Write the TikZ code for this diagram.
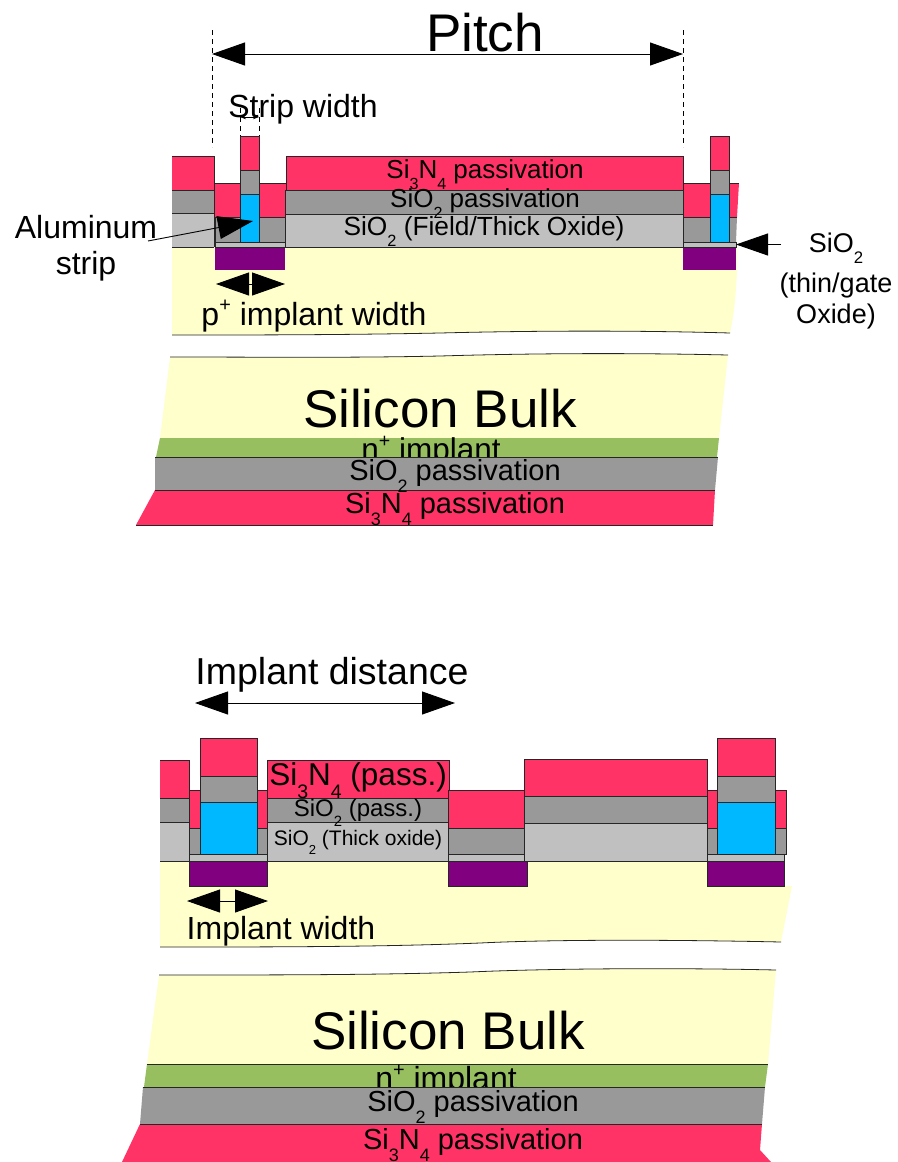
\documentclass[tikz,border=0pt]{standalone}
\usepackage{fontspec}
\setmainfont{Liberation Sans}
\usetikzlibrary{arrows.meta, positioning}
\definecolor{sinRed}{HTML}{FF3366}
\definecolor{oxGray}{HTML}{999999}
\definecolor{thickGray}{HTML}{C0C0C0}
\definecolor{alBlue}{HTML}{00B8FF}
\definecolor{pPurple}{HTML}{800080}
\definecolor{bulkYellow}{HTML}{FFFFCC}
\definecolor{nGreen}{HTML}{97BF60}
\newcommand{\subs}[1]{\raisebox{-.42em}{\scalebox{.62}{#1}}}
\newcommand{\sups}[1]{\raisebox{.42em}{\scalebox{.62}{#1}}}
\tikzset{
    layer/.style={draw=black!85, line width=0.8pt},
    sinLayer/.style={layer, fill=sinRed},
    oxLayer/.style={layer, fill=oxGray},
    thickLayer/.style={layer, fill=thickGray},
    alLayer/.style={layer, fill=alBlue},
    implantLayer/.style={layer, fill=pPurple},
    cutLine/.style={black!85, line width=0.8pt},
    label/.style={font={\fontsize{#1}{#1}\selectfont}, inner sep=0pt, text=black},
    dimArrow/.style={{Triangle[length=33pt,width=23pt]}-{Triangle[length=33pt,width=23pt]}, line width=0.9pt},
    guideLine/.style={dash pattern=on 5pt off 4pt, line width=0.7pt}
}

\begin{document}
\begin{tikzpicture}[x=1pt, y=-1pt]
    \useasboundingbox (0,0) rectangle (897,1162);

    % Upper drawing: bulk
    \fill[bulkYellow] (172,247) -- (737,247) -- (737,270) .. controls (736,295) and (734,315) .. (730,333)
        .. controls (660,331) and (560,330) .. (440,333) .. controls (340,335) and (250,335) .. (172,335) -- cycle;
    \draw[cutLine] (730,333) .. controls (660,331) and (560,330) .. (440,333) .. controls (340,335) and (250,335) .. (172,335);
    \fill[bulkYellow] (170,357) .. controls (260,357) and (350,358) .. (440,356) .. controls (540,353) and (640,353) .. (728,355) -- (719,438) -- (160,438) -- cycle;
    \draw[cutLine] (170,357) .. controls (260,357) and (350,358) .. (440,356) .. controls (540,353) and (640,353) .. (728,355);

    % Upper drawing: back layers
    \fill[nGreen] (160,438) -- (719,438) -- (717,457) -- (156,457) -- cycle;
    \node[label=31.5] (nImplantA) at (431,452) {n\sups{+} implant};
    \fill[oxGray] (155,457) -- (718,457) -- (715,490) -- (155,490) -- cycle;
    \fill[sinRed] (155,490) -- (715,490) -- (713,525) -- (136,525) -- cycle;
    \draw[cutLine] (155,457) -- (718,457) (155,490) -- (715,490) (136,525) -- (713,525);

    % Upper drawing: left stack
    \fill[sinRed] (172,156) rectangle (214,190);
    \fill[oxGray] (172,190) rectangle (214,213);
    \fill[thickGray] (172,213) rectangle (214,247);
    \draw[cutLine] (172,156) -- (214,156) -- (214,247) (172,190) -- (214,190) (172,213) -- (214,213) (172,247) -- (214,247);
    \draw[implantLayer, draw=none] (215,247) rectangle (285,270);
    \draw[thickLayer] (215,242) rectangle (285,247);
    \draw[oxLayer] (215,217) rectangle (240,242);
    \draw[oxLayer] (259,217) rectangle (285,242);
    \draw[sinLayer] (214,183) rectangle (240,217);
    \draw[sinLayer] (259,183) rectangle (286,217);
    \draw[alLayer] (240,194) rectangle (259,242);
    \draw[oxLayer] (240,170) rectangle (259,194);
    \draw[sinLayer] (240,136) rectangle (259,170);

    % Upper drawing: field oxide
    \draw[sinLayer] (286,156) rectangle (683,190);
    \draw[oxLayer] (285,190) rectangle (683,214);
    \draw[thickLayer] (285,214) rectangle (683,247);

    % Upper drawing: right stack
    \draw[implantLayer, draw=none] (683,247) rectangle (736,270);
    \draw[thickLayer] (683,242) rectangle (736,247);
    \draw[oxLayer] (683,217) rectangle (710,242);
    \fill[oxGray] (729,217) -- (737,217) -- (736,242) -- (729,242) -- cycle;
    \draw[cutLine] (737,217) -- (729,217) -- (729,242) -- (736,242);
    \draw[sinLayer] (683,183) rectangle (710,217);
    \fill[sinRed] (729,183) -- (739,183) -- (737,217) -- (729,217) -- cycle;
    \draw[cutLine] (739,183) -- (729,183) -- (729,217) -- (737,217);
    \draw[alLayer] (710,194) rectangle (729,242);
    \draw[oxLayer] (710,170) rectangle (729,194);
    \draw[sinLayer] (710,136) rectangle (729,170);

    % Upper drawing: labels on the layers
    \node[label=26] (sinTop) at (485,175) {Si\subs{3}N\subs{4} passivation};
    \node[label=26] (oxTop) at (485,204) {SiO\subs{2} passivation};
    \node[label=26.3] (fieldOx) at (484,231) {SiO\subs{2} (Field/Thick Oxide)};
    \node[label=32] (pWidth) at (314,316) {p\sups{+} implant width};
    \node[label=53] (bulkA) at (440,409) {Silicon Bulk};
    \node[label=29] (oxBackA) at (455,476) {SiO\subs{2} passivation};
    \node[label=29] (sinBackA) at (455,509) {Si\subs{3}N\subs{4} passivation};

    % Upper drawing: dimensions
    \node[label=53] (pitch) at (485,33) {Pitch};
    \coordinate (pitchL) at (212,54);
    \coordinate (pitchR) at (683,54);
    \draw[dimArrow] (pitchL) -- (pitchR);
    \draw[guideLine] (212,30) -- (212,147);
    \draw[guideLine] (683,30) -- (683,147);
    \node[label=32] (stripWidth) at (303,109) {Strip width};
    \coordinate (stripL) at (240,117);
    \coordinate (stripR) at (259,117);
    \draw[{Stealth[length=6pt]}-{Stealth[length=6pt]}, line width=0.7pt] (stripL) -- (stripR);
    \draw[guideLine, line width=0.5pt] (240,108) -- (240,136);
    \draw[guideLine, line width=0.5pt] (259,108) -- (259,136);
    \coordinate (implantL) at (216,284);
    \coordinate (implantR) at (285,284);
    \draw[dimArrow] (implantL) -- (implantR);

    % Upper drawing: pointers
    \node[label=32, align=center] (alStrip) at (86,248) {Aluminum\\[4pt]strip};
    \coordinate (alFrom) at (148,241);
    \coordinate (alTip) at (253,221);
    \draw[-{Triangle[length=35pt,width=23pt]}, line width=0.9pt] (alFrom) -- (alTip);
    \node[label=27, align=center] (thinOx) at (836,281) {SiO\subs{2}\\[8pt](thin/gate\\[4pt]Oxide)};
    \coordinate (thinFrom) at (781,244.5);
    \coordinate (thinTip) at (736,244.5);
    \draw[-{Triangle[length=32pt,width=22pt]}, line width=0.9pt] (thinFrom) -- (thinTip);

    % Lower drawing: bulk
    \fill[bulkYellow] (160,861) -- (784,861) -- (784,886) -- (792,886) -- (781,942)
        .. controls (690,940) and (560,939) .. (480,943) .. controls (380,947) and (270,947) .. (160,947) -- cycle;
    \draw[cutLine] (781,942) .. controls (690,940) and (560,939) .. (480,943) .. controls (380,947) and (270,947) .. (160,947);
    \fill[bulkYellow] (159,975) .. controls (270,975) and (380,975) .. (470,972) .. controls (560,968) and (690,968) .. (776,970) -- (768,1064) -- (147,1064) -- cycle;
    \draw[cutLine] (159,975) .. controls (270,975) and (380,975) .. (470,972) .. controls (560,968) and (690,968) .. (776,970);

    % Lower drawing: back layers
    \fill[nGreen] (147,1064) -- (768,1064) -- (765,1087) -- (144,1087) -- cycle;
    \draw[cutLine] (147,1064) -- (768,1064);
    \node[label=32] (nImplantB) at (446,1080.5) {n\sups{+} implant};
    \fill[oxGray] (143,1087) -- (765,1087) -- (762,1124) -- (140,1124) -- cycle;
    \draw[cutLine] (143,1087) -- (765,1087) (140,1124) -- (762,1124);
    \fill[sinRed] (140,1124) -- (762,1124) -- (760,1150) -- (771,1162) -- (122,1162) -- cycle;
    \draw[cutLine] (140,1124) -- (762,1124);

    % Lower drawing: left stack
    \fill[sinRed] (160,760) rectangle (189,798);
    \fill[oxGray] (160,798) rectangle (189,822);
    \fill[thickGray] (160,822) rectangle (189,861);
    \draw[cutLine] (160,760) -- (189,760) -- (189,861) (160,798) -- (189,798) (160,822) -- (189,822) (160,861) -- (189,861);
    \draw[implantLayer] (189,861) rectangle (267,886);
    \draw[thickLayer] (189,854) rectangle (267,861);
    \draw[oxLayer] (189,828) rectangle (200,854);
    \draw[oxLayer] (257,828) rectangle (268,854);
    \draw[sinLayer] (189,790) rectangle (200,828);
    \draw[sinLayer] (257,790) rectangle (268,828);
    \draw[alLayer] (200,802) rectangle (257,854);
    \draw[oxLayer] (200,776) rectangle (257,802);
    \draw[sinLayer] (200,738) rectangle (257,776);

    % Lower drawing: first thick oxide
    \draw[sinLayer] (267,760) rectangle (449,798);
    \draw[oxLayer] (267,798) rectangle (449,822);
    \draw[thickLayer] (267,822) rectangle (449,861);

    % Lower drawing: middle implant
    \draw[implantLayer] (448,861) rectangle (527,886);
    \draw[thickLayer] (448,854) rectangle (524,861);
    \draw[oxLayer] (448,828) rectangle (524,854);
    \draw[sinLayer] (448,790) rectangle (524,828);

    % Lower drawing: second thick oxide
    \draw[sinLayer] (524,759) rectangle (707,796);
    \draw[oxLayer] (524,796) rectangle (707,823);
    \draw[thickLayer] (524,823) rectangle (707,861);

    % Lower drawing: right stack
    \draw[implantLayer] (707,861) rectangle (784,886);
    \draw[thickLayer] (707,854) rectangle (784,861);
    \draw[oxLayer] (707,828) rectangle (717,854);
    \draw[oxLayer] (775,828) rectangle (786,854);
    \draw[sinLayer] (707,790) rectangle (717,828);
    \draw[sinLayer] (775,790) rectangle (786,828);
    \draw[alLayer] (717,802) rectangle (775,854);
    \draw[oxLayer] (717,776) rectangle (775,802);
    \draw[sinLayer] (717,738) rectangle (775,776);

    % Lower drawing: labels
    \node[label=31.5] (sinPass) at (358,781) {Si\subs{3}N\subs{4} (pass.)};
    \node[label=24] (oxPass) at (358,813) {SiO\subs{2} (pass.)};
    \node[label=21] (thickOx) at (358,842) {SiO\subs{2} (Thick oxide)};
    \node[label=32] (implWidth) at (281,931) {Implant width};
    \node[label=53] (bulkB) at (448,1031) {Silicon Bulk};
    \node[label=29] (oxBackB) at (473,1107) {SiO\subs{2} passivation};
    \node[label=29] (sinBackB) at (473,1145) {Si\subs{3}N\subs{4} passivation};

    % Lower drawing: dimensions
    \node[label=37.5] (implDist) at (332,675) {Implant distance};
    \coordinate (distL) at (195,703);
    \coordinate (distR) at (455,703);
    \draw[dimArrow] (distL) -- (distR);
    \coordinate (widthL) at (187,901);
    \coordinate (widthR) at (268,901);
    \draw[dimArrow] (widthL) -- (widthR);
\end{tikzpicture}
\end{document}
